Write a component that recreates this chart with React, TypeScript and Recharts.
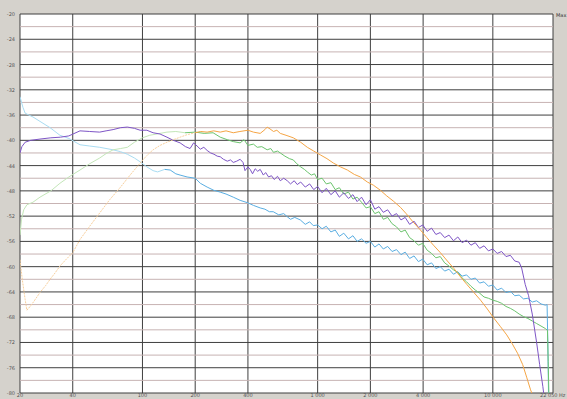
import React from 'react';
import { LineChart, Line, XAxis, YAxis, CartesianGrid, ReferenceLine } from 'recharts';

const xTicks = [20, 40, 100, 200, 400, 1000, 2000, 4000, 10000, 22050];
const xTickLabels = ['20', '40', '100', '200', '400', '1 000', '2 000', '4 000', '10 000', '22 050 Hz'];
const yTicks = [-20, -24, -28, -32, -36, -40, -44, -48, -52, -56, -60, -64, -68, -72, -76, -80];
const yMinor = [-22, -26, -30, -34, -38, -42, -46, -50, -54, -58, -62, -66, -70, -74, -78];

type P = [number, number];

const purple: P[] = [
  [20, -42.0], [20.5, -41.0], [21.4, -40.3], [23, -40.0], [26, -39.8], [30, -39.6], [34, -39.5], [38, -39.3],
  [44, -38.5], [50, -38.6], [57, -38.7], [62, -38.5], [68, -38.3], [75, -38.0], [82, -37.9], [90, -38.1],
  [97, -38.4], [106, -38.4], [115, -38.8], [126, -39.0], [138, -39.5], [150, -40.0], [164, -40.4], [176, -41.0],
  [187, -41.3], [196, -40.4], [205, -40.9], [214, -41.4], [224, -41.1], [234, -41.6], [245, -42.0], [256, -42.2],
  [267, -42.5], [278, -42.6], [290, -43.0], [305, -43.3], [318, -43.1], [330, -43.5], [345, -43.3], [361, -43.0],
  [375, -43.5], [385, -44.8], [400, -44.2], [412, -44.6], [425, -45.3], [440, -44.5], [455, -44.9], [470, -44.6],
  [490, -45.5], [505, -45.1], [525, -45.8], [545, -45.6], [565, -46.2], [590, -45.7], [612, -46.4], [640, -46.0],
  [671, -46.4], [700, -46.9], [735, -46.4], [765, -47.0], [800, -46.6], [850, -47.4], [900, -46.9], [950, -47.8],
  [1000, -47.3], [1060, -48.3], [1120, -47.6], [1190, -48.6], [1260, -48.0], [1330, -49.0], [1410, -48.3], [1500, -49.2],
  [1590, -48.6], [1680, -49.7], [1780, -49.0], [1890, -50.2], [2000, -49.4], [2120, -50.9], [2240, -50.5], [2370, -51.4],
  [2510, -51.0], [2660, -52.0], [2820, -51.6], [2990, -52.6], [3160, -52.2], [3350, -53.3], [3550, -52.8], [3760, -53.8],
  [3980, -53.4], [4220, -54.4], [4470, -53.9], [4730, -54.9], [5010, -54.6], [5310, -55.4], [5620, -55.0], [5960, -55.9],
  [6310, -55.3], [6680, -56.2], [7080, -55.8], [7500, -56.6], [7940, -56.2], [8410, -57.1], [8910, -56.7], [9440, -57.5],
  [10000, -57.2], [10590, -57.9], [11220, -57.6], [11890, -58.4], [12590, -58.2], [13340, -59.1], [14130, -59.3],
  [14600, -60.2], [15300, -62.8], [16000, -64.6], [16790, -67.5], [17780, -72.0], [18500, -75.5], [19300, -79.0], [19600, -80.5],
];

const orange: P[] = [
  [20, -58.9], [20.6, -62.0], [21.4, -65.2], [21.9, -66.9], [23, -66.2], [24, -65.5], [26, -64.1], [28, -63.0],
  [29.7, -62.0], [31.7, -61.0], [33.8, -59.9], [36.8, -58.8], [40, -57.8], [44, -55.7], [50, -53.6], [57, -51.5],
  [65, -49.4], [75, -47.4], [85, -45.5], [97, -43.6], [106, -42.4], [115, -41.5], [126, -40.8], [138, -40.3],
  [150, -39.9], [164, -39.5], [180, -39.1], [200, -38.8], [215, -38.6], [234, -38.7], [255, -38.5], [278, -38.7],
  [300, -38.5], [330, -38.8], [360, -38.6], [400, -38.4], [430, -38.7], [470, -38.9], [500, -38.3], [515, -37.9],
  [535, -38.2], [560, -38.6], [585, -38.4], [612, -38.9], [660, -39.2], [726, -39.6], [800, -40.3], [873, -41.1],
  [950, -41.7], [1036, -42.3], [1130, -42.9], [1230, -43.6], [1349, -44.2], [1478, -44.7], [1620, -45.4], [1754, -45.8],
  [1922, -46.6], [2080, -47.1], [2280, -47.9], [2480, -48.8], [2700, -49.6], [2968, -50.6], [3200, -51.6], [3500, -52.9],
  [3862, -54.2], [4200, -55.4], [4582, -56.6], [5024, -57.8], [5500, -59.1], [6000, -60.3], [6534, -61.6], [7100, -62.8],
  [7800, -64.1], [8506, -65.3], [9300, -66.7], [10100, -68.1], [11060, -69.5], [12000, -70.8], [12900, -72.2],
  [13836, -73.7], [14800, -75.5], [15600, -77.5], [16418, -79.5], [16800, -80.2],
];

const green: P[] = [
  [20, -55.0], [20.4, -52.5], [21, -51.0], [21.9, -50.2], [23.7, -49.8], [26, -49.0], [30, -48.0], [33.8, -46.8],
  [38, -45.8], [44, -44.7], [50, -43.7], [57, -42.8], [62, -42.1], [68, -41.5], [75, -41.3], [82, -41.1],
  [90, -40.3], [100, -39.6], [110, -39.2], [126, -38.9], [138, -38.7], [155, -38.6], [175, -38.8], [200, -38.7],
  [225, -38.9], [253, -38.8], [278, -39.5], [305, -39.9], [330, -40.2], [361, -40.4], [380, -39.9], [400, -40.8],
  [430, -40.6], [452, -41.1], [480, -41.0], [515, -41.5], [540, -41.3], [560, -41.9], [590, -41.7], [612, -42.0],
  [650, -42.5], [690, -42.9], [726, -43.1], [760, -43.7], [800, -44.2], [840, -44.6], [873, -45.0], [920, -45.5],
  [960, -45.3], [1000, -46.2], [1060, -46.0], [1120, -46.9], [1190, -46.7], [1260, -47.8], [1330, -47.5], [1410, -48.5],
  [1500, -48.2], [1590, -49.3], [1680, -49.0], [1780, -49.8], [1890, -50.7], [2000, -50.5], [2120, -51.6], [2240, -51.3],
  [2370, -52.5], [2510, -52.2], [2660, -53.2], [2820, -53.7], [2990, -54.5], [3160, -54.2], [3350, -55.4], [3550, -55.9],
  [3760, -56.6], [3980, -56.3], [4220, -57.4], [4470, -57.9], [4730, -58.6], [5010, -58.4], [5310, -59.4], [5620, -59.9],
  [5960, -60.5], [6310, -60.9], [6680, -61.8], [7080, -62.4], [7500, -63.1], [7940, -63.7], [8410, -64.2], [8910, -64.8],
  [9440, -65.0], [10000, -65.3], [10590, -65.5], [11220, -65.8], [11890, -66.3], [12590, -66.6], [13340, -67.0],
  [14130, -67.5], [14960, -67.9], [15850, -68.2], [16790, -68.6], [17780, -69.0], [18840, -69.4], [19950, -69.8],
  [20500, -70.1], [20700, -75.0], [20900, -80.5],
];

const blue: P[] = [
  [20, -33.1], [20.8, -34.8], [21.4, -35.7], [22.5, -36.0], [23.7, -36.3], [26, -37.0], [29.7, -38.0], [33.8, -39.2],
  [38, -39.7], [44, -40.7], [50, -40.9], [57, -41.1], [68, -41.5], [75, -41.8], [82, -42.2], [90, -42.8],
  [97, -43.4], [106, -44.2], [115, -44.8], [122, -45.0], [134, -44.6], [144, -44.7], [155, -45.3], [164, -45.5],
  [180, -45.8], [200, -46.0], [214, -46.8], [234, -47.4], [255, -47.9], [278, -48.2], [300, -48.5], [330, -49.0],
  [361, -49.5], [400, -49.9], [430, -50.3], [470, -50.7], [500, -50.9], [530, -51.3], [558, -51.3], [600, -51.8],
  [640, -51.6], [671, -52.1], [700, -52.5], [740, -52.2], [796, -52.6], [850, -53.3], [900, -52.9], [944, -53.5],
  [1000, -53.4], [1060, -54.0], [1120, -53.6], [1190, -54.5], [1260, -54.2], [1330, -55.2], [1410, -54.7], [1500, -55.6],
  [1590, -55.1], [1680, -56.0], [1780, -55.6], [1890, -56.3], [2000, -56.0], [2120, -56.9], [2240, -56.4], [2370, -57.2],
  [2510, -56.8], [2660, -57.6], [2820, -57.3], [2990, -58.1], [3160, -57.7], [3350, -58.7], [3550, -58.3], [3760, -59.2],
  [3980, -58.8], [4220, -59.7], [4470, -59.4], [4730, -60.3], [5010, -60.0], [5310, -60.7], [5620, -60.4], [5960, -61.2],
  [6310, -60.8], [6680, -61.5], [7080, -61.3], [7500, -62.0], [7940, -61.8], [8410, -62.6], [8910, -62.4], [9440, -63.1],
  [10000, -62.9], [10590, -63.7], [11220, -63.4], [11890, -64.1], [12590, -63.9], [13340, -64.6], [14130, -64.5],
  [14960, -65.1], [15850, -65.0], [16790, -65.6], [17780, -65.4], [18840, -65.9], [19950, -66.1], [20400, -66.0],
  [20600, -72.0], [20800, -80.5],
];

// frequency below which each trace is drawn faintly (sparse low-frequency bins)
const fadeBelow = { blue: 134, green: 175, orange: 200 };

const rows = (pts: P[]) => pts.map(([f, v]) => ({ f, v }));
const low = (pts: P[], cut: number) => rows(pts.filter(([f]) => f <= cut));
const high = (pts: P[], cut: number) => rows(pts.filter(([f]) => f >= cut));

const XTick = (props: any) => {
  const { x, y, payload, index } = props;
  const i = xTicks.indexOf(payload.value);
  const last = i === xTicks.length - 1;
  return (
    <text x={last ? x - 13 : x} y={y + 4} fontSize={5} fill="#555" textAnchor={last ? 'start' : 'middle'} fontFamily="DejaVu Sans">
      {xTickLabels[i >= 0 ? i : index]}
    </text>
  );
};

const YTick = (props: any) => {
  const { x, y, payload } = props;
  return (
    <text x={x - 5} y={y + 2} fontSize={5} fill="#555" textAnchor="end" fontFamily="DejaVu Sans">
      {payload.value}
    </text>
  );
};

const lineProps = { dataKey: 'v', strokeWidth: 1, dot: false, isAnimationActive: false } as const;

export default function App() {
  return (
    <div style={{ position: 'relative', width: 567, height: 399, background: '#d5d2cc', overflow: 'hidden' }}>
      <style>{'body{margin:0}'}</style>
      <LineChart width={567} height={399} margin={{ top: 14, right: 14, bottom: 0, left: 0 }}>
        <CartesianGrid stroke="#3f3f3f" fill="#ffffff" fillOpacity={1} />
        <XAxis
          type="number"
          dataKey="f"
          scale="log"
          domain={[20, 22050]}
          ticks={xTicks}
          allowDataOverflow
          height={6}
          axisLine={false}
          tickLine={false}
          tickSize={0}
          tickMargin={0}
          tick={<XTick />}
          interval={0}
        />
        <YAxis
          type="number"
          domain={[-80, -20]}
          ticks={yTicks}
          allowDataOverflow
          width={20}
          axisLine={false}
          tickLine={false}
          tickSize={0}
          tickMargin={0}
          tick={<YTick />}
          interval={0}
        />
        {yMinor.map((v) => (
          <ReferenceLine key={v} y={v} stroke="#c7b3b3" strokeWidth={1} />
        ))}
        <Line {...lineProps} data={low(blue, fadeBelow.blue)} stroke="#a9dcf2" />
        <Line {...lineProps} data={high(blue, fadeBelow.blue)} stroke="#5aaee2" />
        <Line {...lineProps} data={low(green, fadeBelow.green)} stroke="#c3e6b8" />
        <Line {...lineProps} data={high(green, fadeBelow.green)} stroke="#6cc46e" />
        <Line {...lineProps} data={rows(purple)} stroke="#7e55c6" />
        <Line {...lineProps} data={low(orange, fadeBelow.orange)} stroke="#f8cf9c" strokeDasharray="2 1" />
        <Line {...lineProps} data={high(orange, fadeBelow.orange)} stroke="#f5a545" />
      </LineChart>
      <div style={{ position: 'absolute', left: 556, top: 12, fontSize: 5, fontFamily: 'DejaVu Sans', color: '#333' }}>Max</div>
    </div>
  );
}
